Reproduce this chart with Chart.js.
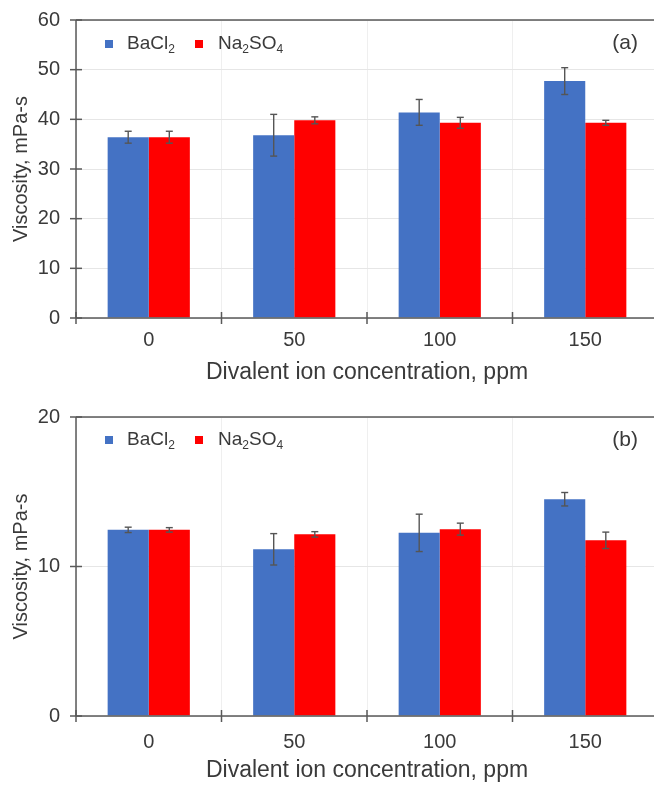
<!DOCTYPE html>
<html>
<head>
<meta charset="utf-8">
<script src="https://cdn.jsdelivr.net/npm/chart.js@4.4.1/dist/chart.umd.min.js"></script>
<style>
  html, body { margin: 0; padding: 0; background: #fff; overflow: hidden; width: 654px; height: 785px; }
  canvas { display: block; }
</style>
</head>
<body>
<canvas id="chart-a" width="660" height="390"></canvas>
<canvas id="chart-b" width="660" height="395"></canvas>
<script>
'use strict';

// Datos
const categorias = ['0', '50', '100', '150'];

// (a)
const bacl2A = [36.4, 36.8, 41.4, 47.7];
const bacl2ErrA = [1.2, 4.2, 2.6, 2.7];
const na2so4A = [36.4, 39.8, 39.3, 39.3];
const na2so4ErrA = [1.2, 0.7, 1.1, 0.5];

// (b)
const bacl2B = [12.45, 11.15, 12.25, 14.5];
const bacl2ErrB = [0.18, 1.05, 1.25, 0.45];
const na2so4B = [12.45, 12.15, 12.5, 11.75];
const na2so4ErrB = [0.15, 0.18, 0.4, 0.55];

const tituloX = 'Divalent ion concentration, ppm';
const tituloY = 'Viscosity, mPa-s';

const AZUL = '#4472C4';
const ROJO = '#FF0000';
const EJE = '#595959';
const TEXTO = '#3a3a3a';
const FUENTE = '"Liberation Sans", Arial, sans-serif';

Chart.defaults.font.family = FUENTE;
Chart.defaults.color = TEXTO;

function linea(ctx, x1, y1, x2, y2) {
  ctx.beginPath();
  ctx.moveTo(x1, y1);
  ctx.lineTo(x2, y2);
  ctx.stroke();
}

// Texto con subíndices: partes [texto, esSub]
function textoConSub(ctx, partes, x, y, tam) {
  let cx = x;
  partes.forEach(function (p) {
    if (p[1]) {
      ctx.font = Math.round(tam * 0.65) + 'px ' + FUENTE;
      ctx.fillText(p[0], cx, y + tam * 0.28);
    } else {
      ctx.font = tam + 'px ' + FUENTE;
      ctx.fillText(p[0], cx, y);
    }
    cx += ctx.measureText(p[0]).width;
  });
}

const decoracionPlugin = {
  id: 'decoracion',
  afterDatasetsDraw(chart, args, opts) {
    const ctx = chart.ctx;
    const area = chart.chartArea;
    const xs = chart.scales.x;
    const ys = chart.scales.y;

    ctx.save();

    // barras de error
    ctx.strokeStyle = '#555';
    ctx.lineWidth = 1.4;
    chart.data.datasets.forEach(function (ds, di) {
      const meta = chart.getDatasetMeta(di);
      meta.data.forEach(function (bar, i) {
        const v = ds.data[i];
        const e = ds.errores[i];
        const yArr = ys.getPixelForValue(v + e);
        const yAba = ys.getPixelForValue(v - e);
        linea(ctx, bar.x, yArr, bar.x, yAba);
        linea(ctx, bar.x - 3.5, yArr, bar.x + 3.5, yArr);
        linea(ctx, bar.x - 3.5, yAba, bar.x + 3.5, yAba);
      });
    });

    // ejes y borde superior
    ctx.strokeStyle = EJE;
    ctx.lineWidth = 1.5;
    linea(ctx, area.left, area.top, area.left, area.bottom);
    linea(ctx, area.left, area.top, area.right, area.top);
    linea(ctx, area.left, area.bottom, area.right, area.bottom);

    ys.ticks.forEach(function (t, i) {
      const y = ys.getPixelForTick(i);
      linea(ctx, area.left - 6, y, area.left + 6, y);
    });
    for (let i = 0; i <= categorias.length; i++) {
      const x = xs.getPixelForValue(i - 0.5);
      linea(ctx, x, area.bottom - 6, x, area.bottom + 6);
    }

    // leyenda
    const yLeyenda = area.top + opts.leyendaDy;
    ctx.textBaseline = 'middle';
    ctx.textAlign = 'left';
    ctx.fillStyle = AZUL;
    ctx.fillRect(area.left + 29, yLeyenda - 4, 8, 8);
    ctx.fillStyle = ROJO;
    ctx.fillRect(area.left + 119, yLeyenda - 4, 8, 8);
    ctx.fillStyle = TEXTO;
    textoConSub(ctx, [['BaCl', false], ['2', true]], area.left + 51, yLeyenda, 19);
    textoConSub(ctx, [['Na', false], ['2', true], ['SO', false], ['4', true]], area.left + 142, yLeyenda, 19);

    // etiqueta del panel
    ctx.font = '21px ' + FUENTE;
    ctx.textAlign = 'right';
    ctx.fillText(opts.panel, area.right - 20, area.top + opts.panelDy);

    ctx.restore();
  }
};

function crearGrafico(idCanvas, azul, azulErr, rojo, rojoErr, yMax, panel, cfg) {
  const canvas = document.getElementById(idCanvas);
  return new Chart(canvas.getContext('2d'), {
    type: 'bar',
    data: {
      labels: categorias,
      datasets: [
        { label: 'BaCl2', data: azul, errores: azulErr, backgroundColor: AZUL,
          barPercentage: 1.0, categoryPercentage: 0.565 },
        { label: 'Na2SO4', data: rojo, errores: rojoErr, backgroundColor: ROJO,
          barPercentage: 1.0, categoryPercentage: 0.565 }
      ]
    },
    options: {
      responsive: false,
      animation: false,
      devicePixelRatio: 1,
      layout: { padding: { top: cfg.arriba, right: 2, left: 0, bottom: 0 } },
      plugins: {
        legend: { display: false },
        tooltip: { enabled: false },
        decoracion: { panel: panel, leyendaDy: cfg.leyendaDy, panelDy: cfg.panelDy }
      },
      scales: {
        x: {
          grid: { color: '#efefef', offset: true, drawTicks: false },
          border: { display: false },
          ticks: { font: { size: 20 }, color: TEXTO, padding: cfg.padTicksX },
          title: { display: true, text: tituloX, font: { size: 23 }, color: TEXTO,
                   padding: { top: 0, bottom: cfg.padTituloX } },
          afterFit: function (scale) { scale.height = cfg.altoX; }
        },
        y: {
          min: 0,
          max: yMax,
          ticks: { stepSize: 10, font: { size: 20 }, color: TEXTO, padding: 8 },
          grid: { color: '#e6e6e6', drawTicks: true, tickLength: 8, tickColor: 'rgba(0,0,0,0)' },
          border: { display: false },
          title: { display: true, text: tituloY, font: { size: 20 }, color: TEXTO,
                   padding: { top: 9, bottom: 0 } },
          afterFit: function (scale) { scale.width = 76; }
        }
      }
    },
    plugins: [decoracionPlugin]
  });
}

crearGrafico('chart-a', bacl2A, bacl2ErrA, na2so4A, na2so4ErrA, 60, '(a)',
  { arriba: 20, altoX: 72, padTicksX: 10, padTituloX: 4, leyendaDy: 24, panelDy: 23 });

crearGrafico('chart-b', bacl2B, bacl2ErrB, na2so4B, na2so4ErrB, 20, '(b)',
  { arriba: 27, altoX: 69, padTicksX: 14, padTituloX: 1, leyendaDy: 23, panelDy: 23 });
</script>
</body>
</html>
